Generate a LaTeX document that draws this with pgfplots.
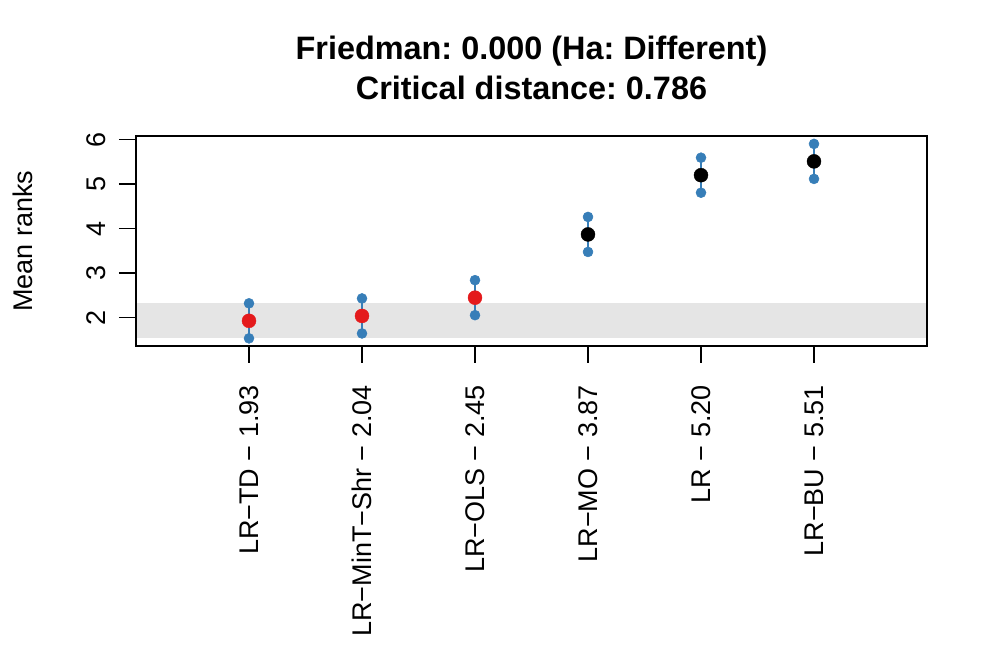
\documentclass[border=0pt]{standalone}
\usepackage{pgfplots}
\pgfplotsset{compat=1.18}
\usepackage{fontspec}
\setmainfont{Liberation Sans}
\definecolor{cdblue}{RGB}{55,126,184}
\definecolor{cdred}{RGB}{228,26,28}
\definecolor{band}{RGB}{229,229,229}
\newcommand{\basefont}{\fontsize{27bp}{32bp}\selectfont}
\frenchspacing
\begin{document}
\basefont\frenchspacing
\begin{tikzpicture}
\useasboundingbox (0,0) rectangle (997bp,664bp);
\begin{axis}[at={(136bp,318bp)}, anchor=south west, scale only axis,
  width=791bp, height=210bp,
  xmin=0, xmax=7, ymin=1.365, ymax=6.08,
  axis on top,
  axis line style={line width=1.5bp, black},
  tick pos=left, tick align=outside, major tick length=17bp,
  every tick/.style={line width=1.5bp, black},
  xtick={1,2,3,4,5,6},
  xticklabels={LR−TD − 1.93, LR−MinT−Shr − 2.04, LR−OLS − 2.45, LR−MO − 3.87, LR − 5.20, LR−BU − 5.51},
  ytick={2,3,4,5,6},
  /pgf/number format/assume math mode=true,
  xticklabel shift=22bp,
  yticklabel shift=13bp,
  xticklabel style={rotate=90, anchor=east, inner sep=0pt, font=\basefont},
  yticklabel style={rotate=90, anchor=south, inner sep=0pt, font=\basefont},
]
% band of critical distance from best
\addplot[fill=band, draw=none, forget plot] coordinates {(0,1.537) (7,1.537) (7,2.323) (0,2.323)};
% mean ranks not within CD (black)
\addplot[only marks, mark=*, mark size=7bp, mark options={fill=black, draw=black}] coordinates {(4,3.87) (5,5.20) (6,5.51)};
% CD intervals
\addplot[cdblue, line width=2bp, mark=*, mark size=5bp, mark options={solid, fill=cdblue, draw=cdblue, line width=0.5bp}, unbounded coords=jump] coordinates {
(1,1.537) (1,2.323) (1,nan)
(2,1.647) (2,2.433) (2,nan)
(3,2.057) (3,2.843) (3,nan)
(4,3.477) (4,4.263) (4,nan)
(5,4.807) (5,5.593) (5,nan)
(6,5.117) (6,5.903)
};
% mean ranks within CD (red)
\addplot[only marks, mark=*, mark size=7bp, mark options={fill=cdred, draw=cdred}] coordinates {(1,1.93) (2,2.04) (3,2.45)};
\end{axis}
\node[anchor=base, font=\fontsize{32.4bp}{38bp}\selectfont\bfseries] at (531.5bp,604bp) {Friedman: 0.000 (Ha: Different)};
\node[anchor=base, font=\fontsize{32.4bp}{38bp}\selectfont\bfseries] at (531.5bp,564bp) {Critical distance: 0.786};
\node[rotate=90, anchor=center, font=\basefont] at (22.5bp,423bp) {Mean ranks};
\end{tikzpicture}
\end{document}
